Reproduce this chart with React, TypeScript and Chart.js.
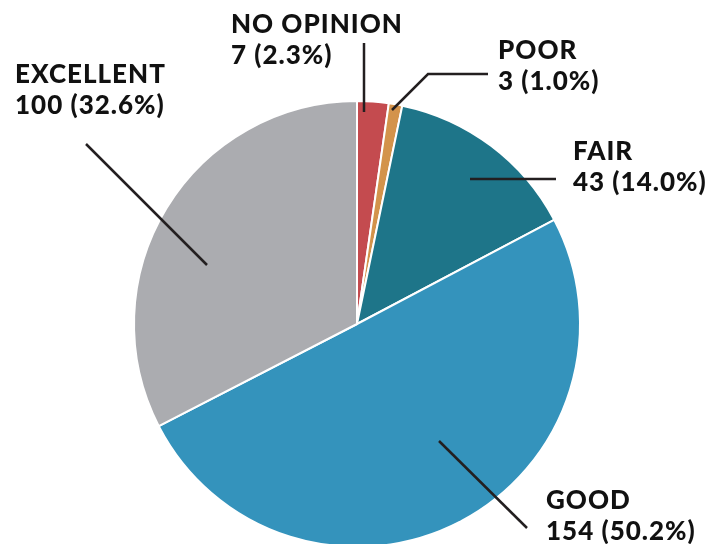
import React, { useEffect, useRef } from "react";
import { Chart, registerables } from "chart.js";

Chart.register(...registerables);

const categories = ["NO OPINION", "POOR", "FAIR", "GOOD", "EXCELLENT"];
const counts = [7, 3, 43, 154, 100];
const sliceColors = ["#C44B4F", "#D3934B", "#1E7589", "#3493BC", "#ABACB0"];

// Annotation layout (label text anchor + leader line polyline), in canvas pixels
const labelLayout = [
  { x: 231, y: 33, line: [[364, 43], [364, 112]] },
  { x: 498, y: 59, line: [[392, 110], [428, 74], [488, 74]] },
  { x: 573, y: 160, line: [[470, 179], [556, 179]] },
  { x: 546, y: 509, line: [[439, 441], [527, 528]] },
  { x: 15, y: 83, line: [[86, 144], [207, 265]] },
];

const FONT = "900 26px Lato";
const LINE_GAP = 31;

const labelPlugin = {
  id: "leaderLabels",
  afterDraw(chart: any) {
    const ctx = chart.ctx as CanvasRenderingContext2D;
    const data = chart.data.datasets[0].data as number[];
    const total = data.reduce((a, b) => a + b, 0);
    ctx.save();
    labelLayout.forEach((lay, i) => {
      ctx.beginPath();
      ctx.strokeStyle = "#231F20";
      ctx.lineWidth = 2.5;
      ctx.lineJoin = "miter";
      lay.line.forEach(([px, py], k) => (k === 0 ? ctx.moveTo(px, py) : ctx.lineTo(px, py)));
      ctx.stroke();
      ctx.fillStyle = "#111111";
      ctx.font = FONT;
      (ctx as any).letterSpacing = "1px";
      ctx.textAlign = "left";
      ctx.textBaseline = "alphabetic";
      const pct = ((data[i] / total) * 100).toFixed(1);
      ctx.fillText(String(chart.data.labels[i]), lay.x, lay.y);
      ctx.fillText(`${data[i]} (${pct}%)`, lay.x, lay.y + LINE_GAP);
    });
    ctx.restore();
  },
};

export default function App() {
  const ref = useRef<HTMLCanvasElement | null>(null);
  useEffect(() => {
    if (!ref.current) return;
    const chart = new Chart(ref.current, {
      type: "pie",
      data: {
        labels: categories,
        datasets: [
          {
            data: counts,
            backgroundColor: sliceColors,
            borderColor: "#FFFFFF",
            borderWidth: 2,
          },
        ],
      },
      options: {
        animation: false,
        responsive: false,
        devicePixelRatio: 1,
        layout: { padding: { left: 133, right: 141, top: 100, bottom: 12 } },
        plugins: { legend: { display: false }, tooltip: { enabled: false } },
      },
      plugins: [labelPlugin],
    });
    return () => chart.destroy();
  }, []);
  return (
    <div
      style={{
        position: "fixed",
        left: 0,
        top: 0,
        width: 722,
        height: 544,
        overflow: "hidden",
        background: "#FFFFFF",
      }}
    >
      <canvas ref={ref} width={722} height={560} style={{ width: 722, height: 560, display: "block" }} />
    </div>
  );
}
